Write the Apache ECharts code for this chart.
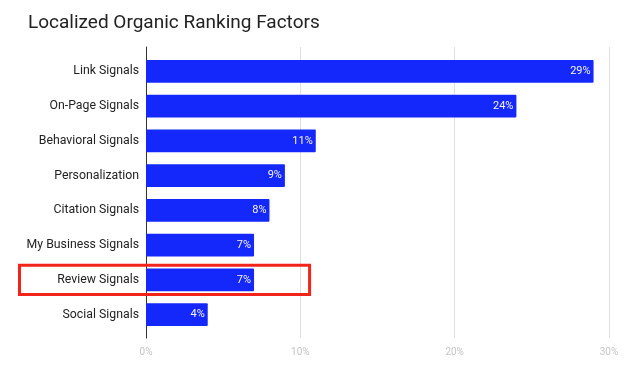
<!DOCTYPE html>
<html>
<head>
<meta charset="utf-8">
<script src="https://cdn.jsdelivr.net/npm/echarts@6/dist/echarts.min.js"></script>
<style>html,body{margin:0;padding:0;background:#fff;}#c{width:644px;height:380px;}</style>
</head>
<body>
<div id="c"></div>
<script>
var categories = ['Link Signals','On-Page Signals','Behavioral Signals','Personalization','Citation Signals','My Business Signals','Review Signals','Social Signals'];
var values = [29, 24, 11, 9, 8, 7, 7, 4];
var tickValues = [0, 10, 20, 30];
var highlightCategory = 'Review Signals';

var chart = echarts.init(document.getElementById('c'), null, {renderer: 'canvas'});
var font = 'Roboto, "Noto Sans", sans-serif';
var option = {
  animation: false,
  title: {
    text: 'Localized Organic Ranking Factors',
    left: 23, top: 9,
    textStyle: {fontFamily: font, fontSize: 19, fontWeight: 'normal', color: '#222'}
  },
  grid: [
    {left: 146, right: 35, top: 54, bottom: 48, containLabel: false},
    {left: 146, right: 35, top: 47, bottom: 42, containLabel: false}
  ],
  xAxis: [
    {gridIndex: 0, type: 'value', min: 0, max: 30, interval: 10,
     axisLine: {show: false}, axisTick: {show: false}, axisLabel: {show: false}, splitLine: {show: false}},
    {gridIndex: 1, type: 'value', min: 0, max: 30, interval: 10,
     axisLine: {show: false}, axisTick: {show: false},
     axisLabel: {color: '#c4c4c4', fontSize: 10, fontFamily: font, margin: 9,
       formatter: function(v){ return v + '%'; }},
     splitLine: {show: true, lineStyle: {color: '#e0e0e0', width: 1}}}
  ],
  yAxis: [
    {gridIndex: 0, type: 'category', data: categories, inverse: true,
     axisLine: {show: false}, axisTick: {show: false},
     axisLabel: {color: '#222', fontSize: 12.3, fontFamily: font, margin: 7}},
    {gridIndex: 1, type: 'value', min: 0, max: 1,
     axisLine: {show: true, lineStyle: {color: '#333', width: 1}}, axisTick: {show: false},
     axisLabel: {show: false}, splitLine: {show: false}}
  ],
  series: [{
    type: 'bar',
    xAxisIndex: 0, yAxisIndex: 0,
    data: values,
    barCategoryGap: '35%',
    itemStyle: {color: '#1428fb', borderRadius: 1},
    label: {show: true, position: 'insideRight', color: '#f4f4ff', fontSize: 11, fontFamily: font, distance: 3,
      formatter: function(p){ return p.value + '%'; }}
  }]
};
chart.setOption(option);

// Annotation rectangle around the highlighted category, positioned via the chart's scales
var idx = categories.indexOf(highlightCategory);
var pc = chart.convertToPixel({xAxisIndex: 0, yAxisIndex: 0}, [0, idx]);
var pn = chart.convertToPixel({xAxisIndex: 0, yAxisIndex: 0}, [0, idx + 1]);
var band = Math.abs(pn[1] - pc[1]);
var pr = chart.convertToPixel({xAxisIndex: 0, yAxisIndex: 0}, [10.6, idx]);
chart.setOption({
  graphic: [{
    type: 'rect',
    shape: {x: 19.5, y: pc[1] - band * 0.42, width: pr[0] - 19.5, height: band * 0.84},
    style: {fill: 'none', stroke: '#f2231b', lineWidth: 3},
    z: 100
  }]
});
</script>
</body>
</html>
